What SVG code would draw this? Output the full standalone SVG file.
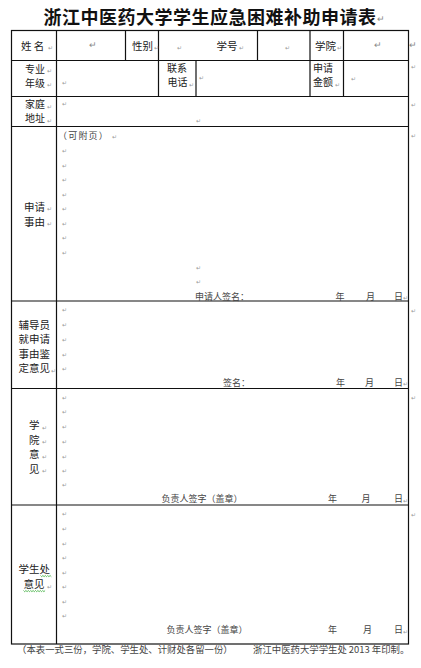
<svg xmlns="http://www.w3.org/2000/svg" width="421" height="668" viewBox="0 0 421 668">
<style>
text{font-family:"Noto Sans CJK SC","Noto Sans",sans-serif}
.t{font-size:18px;font-weight:700;fill:#111;letter-spacing:0.5px}
.l{font-size:10.5px;fill:#222}
.l2{font-size:10px;fill:#222}
.s{font-size:9px;fill:#444}
.f{font-size:9.4px;fill:#444}
.m{font-size:5.5px;fill:#999}
.r{font-size:9px;fill:#888}
.ln{stroke:#111;stroke-width:1.2;fill:none}
.w{stroke:#3a3;stroke-width:0.8;fill:none}
</style>
<rect width="421" height="668" fill="#fff"/>
<g id="title">
<text class="t" x="43.5" y="24">浙江中医药大学学生应急困难补助申请表</text>
<text class="r" x="377" y="22">↵</text>
</g>
<g id="connectors">
<rect class="ln" x="11.5" y="30.5" width="397" height="613.5"/>
<path class="ln" d="M11.5 60.5H408.5M11.5 96.5H408.5M11.5 126.5H408.5M11.5 301H408.5M11.5 388.5H408.5M11.5 505H408.5"/>
<path class="ln" d="M56.5 30.5V644M125.5 30.5V60.5M158.5 30.5V96.5M257.5 30.5V60.5M310 30.5V96.5M343.5 30.5V96.5M196 60.5V96.5"/>
</g>
<g id="row-name">
<text class="l" x="21" y="49.5" xml:space="preserve">姓 名</text><text class="m" x="47.5" y="50">↵</text>
<text class="r" x="89" y="48">↵</text>
<text class="l" x="132" y="49.5">性别</text><text class="m" x="154" y="50">↵</text>
<text class="m" x="177" y="50">↵</text>
<text class="l" x="216.5" y="49.5">学号</text><text class="m" x="238.5" y="50">↵</text>
<text class="m" x="285" y="50">↵</text>
<text class="l" x="315" y="49.5">学院</text><text class="m" x="337" y="50">↵</text>
<text class="r" x="374" y="48">↵</text>
<text class="r" x="409" y="48">↵</text>
</g>
<g id="row-major">
<text class="l2" x="25" y="72.5">专业</text><text class="l2" x="25" y="86.5">年级</text>
<text class="m" x="46.5" y="73">↵</text><text class="m" x="46.5" y="87">↵</text>
<text class="m" x="62" y="85">↵</text>
<text class="l2" x="167" y="72">联系</text><text class="l2" x="167.5" y="86">电话</text>
<text class="m" x="189" y="86.5">↵</text>
<text class="m" x="199" y="80">↵</text>
<text class="l2" x="313" y="72">申请</text><text class="l2" x="313" y="86">金额</text>
<text class="m" x="334.5" y="86.5">↵</text>
<text class="m" x="350.5" y="81">↵</text>
<text class="m" x="411" y="69">↵</text>
</g>
<g id="row-address">
<text class="l2" x="25" y="108">家庭</text><text class="l2" x="25" y="122">地址</text>
<text class="m" x="46.5" y="108.5">↵</text><text class="m" x="46.5" y="122.5">↵</text>
<text class="m" x="62" y="106">↵</text>
<text class="m" x="195.5" y="122.5">↵</text>
<text class="m" x="411" y="106.5">↵</text>
</g>
<g id="reason">
<text class="l" x="24" y="210.5">申请</text><text class="l" x="24" y="225.5">事由</text>
<text class="m" x="46.5" y="211">↵</text><text class="m" x="46.5" y="226">↵</text>
<text class="s" x="58" y="139" letter-spacing="1.2">（可附页）</text><text class="m" x="112" y="139">↵</text>
<g class="m"><text x="62" y="153">↵</text><text x="62" y="167.5">↵</text><text x="62" y="182">↵</text><text x="62" y="197">↵</text><text x="62" y="211">↵</text><text x="62" y="226">↵</text><text x="62" y="240">↵</text><text x="62" y="254.5">↵</text><text x="195.5" y="269.5">↵</text><text x="195.5" y="283.5">↵</text></g>
<text class="s" x="195" y="299.5">申请人签名：</text>
<text class="s" x="335.5" y="299.5">年</text><text class="s" x="366" y="299.5">月</text><text class="s" x="394" y="299.5">日</text><text class="m" x="403" y="300">↵</text>
<text class="m" x="411" y="138">↵</text>
</g>
<g id="counselor">
<text class="l" x="18.5" y="328.5">辅导员</text><text class="l" x="18.5" y="343">就申请</text><text class="l" x="18.5" y="357.5">事由鉴</text><text class="l" x="18.5" y="372">定意见</text>
<text class="m" x="51" y="372.5">↵</text>
<g class="m"><text x="62" y="312">↵</text><text x="62" y="327">↵</text><text x="62" y="342">↵</text><text x="62" y="356.5">↵</text><text x="62" y="371">↵</text></g>
<text class="s" x="223" y="385.5">签名：</text>
<text class="s" x="336" y="385.5">年</text><text class="s" x="365" y="385.5">月</text><text class="s" x="394" y="385.5">日</text><text class="m" x="403" y="386">↵</text>
<text class="m" x="411" y="313">↵</text>
</g>
<g id="college">
<text class="l" x="29" y="429">学</text><text class="l" x="29" y="443.5">院</text><text class="l" x="29" y="458">意</text><text class="l" x="29" y="472.5">见</text>
<text class="m" x="42" y="429.5">↵</text><text class="m" x="42" y="444">↵</text><text class="m" x="42" y="458.5">↵</text><text class="m" x="42" y="473">↵</text>
<g class="m"><text x="62" y="400">↵</text><text x="62" y="414">↵</text><text x="62" y="428.5">↵</text><text x="62" y="443.5">↵</text><text x="62" y="458.5">↵</text><text x="62" y="473">↵</text><text x="62" y="487">↵</text></g>
<text class="s" x="161.5" y="502" font-size="9.3">负责人签字（盖章）</text>
<text class="s" x="328" y="502">年</text><text class="s" x="361.5" y="502">月</text><text class="s" x="394" y="502">日</text><text class="m" x="403" y="502.5">↵</text>
<text class="m" x="411" y="400">↵</text>
</g>
<g id="student-office">
<text class="l" x="18.5" y="573">学生处</text><text class="l" x="23.5" y="588">意见</text>
<text class="m" x="46.5" y="588.5">↵</text>
<path class="w" d="M40.5 575.5l1.2 1.2 1.2-1.2 1.2 1.2 1.2-1.2 1.2 1.2 1.2-1.2 1.2 1.2 1.2-1.2 1.2 1.2"/>
<path class="w" d="M23.5 590.5l1.2 1.2 1.2-1.2 1.2 1.2 1.2-1.2 1.2 1.2 1.2-1.2 1.2 1.2 1.2-1.2 1.2 1.2 1.2-1.2 1.2 1.2 1.2-1.2 1.2 1.2 1.2-1.2 1.2 1.2 1.2-1.2 1.2 1.2 1.2-1.2"/>
<g class="m"><text x="62" y="516">↵</text><text x="62" y="530.5">↵</text><text x="62" y="545.5">↵</text><text x="62" y="559.5">↵</text><text x="62" y="574.5">↵</text><text x="62" y="589">↵</text><text x="62" y="604">↵</text><text x="62" y="618">↵</text></g>
<text class="s" x="166.5" y="633" font-size="9.3">负责人签字（盖章）</text>
<text class="s" x="328" y="633">年</text><text class="s" x="363" y="633">月</text><text class="s" x="394" y="633">日</text><text class="m" x="403" y="633.5">↵</text>
<text class="m" x="411" y="517">↵</text>
</g>
<g id="footer">
<text class="f" x="17" y="653">（本表一式三份，学院、学生处、计财处各留一份）</text>
<text class="f" x="253" y="653" xml:space="preserve">浙江中医药大学学生处 2013 年印制。</text>
</g>
</svg>
